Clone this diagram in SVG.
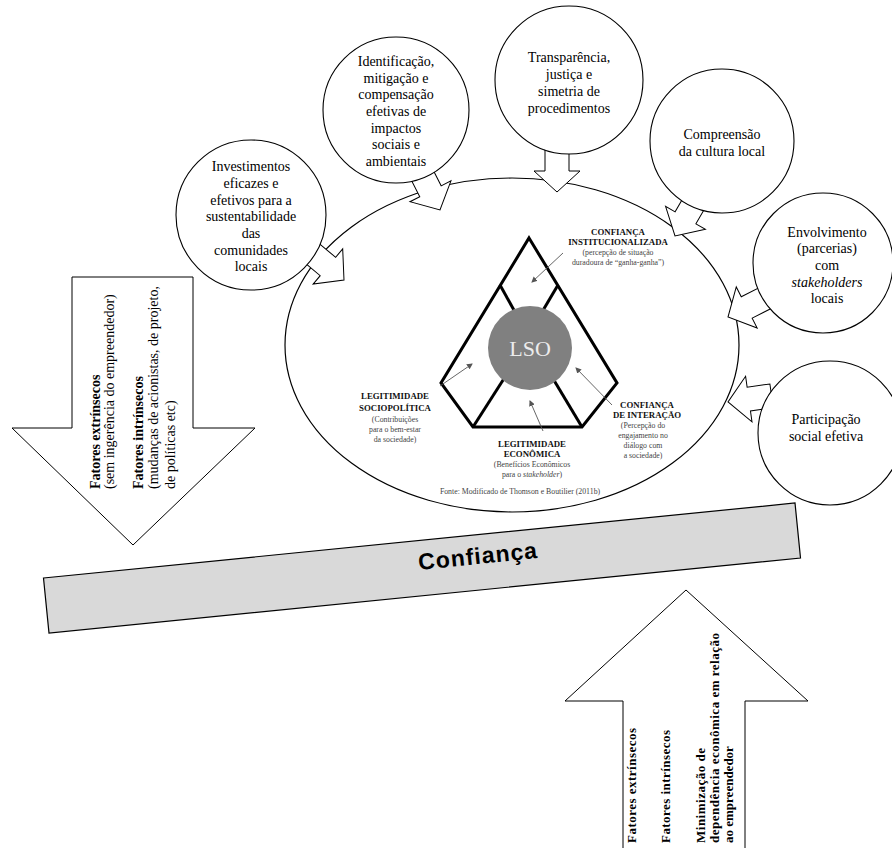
<svg xmlns="http://www.w3.org/2000/svg" xmlns:xlink="http://www.w3.org/1999/xlink" width="892" height="848" viewBox="0 0 892 848">
<style>
.node{fill:#fff;stroke:#000;stroke-width:1.1}
.ct{font-family:"Liberation Serif","Times New Roman",serif;font-size:14px;fill:#000;text-anchor:middle}
.blk{fill:#fff;stroke:#000;stroke-width:1}
.pyr{fill:none;stroke:#000;stroke-width:3;stroke-linejoin:miter}
.lb{font-family:"Liberation Serif","Times New Roman",serif;font-size:8.8px;font-weight:bold;fill:#111;text-anchor:middle}
.sm{font-family:"Liberation Serif","Times New Roman",serif;font-size:7.8px;fill:#444;text-anchor:middle}
.ptr{stroke:#555;stroke-width:0.9;fill:none;marker-end:url(#ah)}
.vt{font-family:"Liberation Serif","Times New Roman",serif;font-size:14px;fill:#000}
.vb{font-family:"Liberation Serif","Times New Roman",serif;font-size:13px;font-weight:bold;fill:#000}
</style>
<defs>
<path id="barrow" d="M-44,-12 L-21,-12 L-21,-23 L0,0 L-21,23 L-21,12 L-44,12 Z"/>
<marker id="ah" markerWidth="6" markerHeight="6" refX="5" refY="3" orient="auto" markerUnits="userSpaceOnUse"><path d="M0,0 L6,3 L0,6 Z" fill="#555"/></marker>
</defs>
<rect width="892" height="848" fill="#fff"/>

<g id="lso-ellipse">
<ellipse cx="512" cy="345" rx="227" ry="167" fill="#fff" stroke="#000" stroke-width="1.2"/>
</g>

<g id="connectors">
<use xlink:href="#barrow" class="blk" transform="translate(344,280) rotate(40)"/>
<use xlink:href="#barrow" class="blk" transform="translate(440,210) rotate(63)"/>
<use xlink:href="#barrow" class="blk" transform="translate(557,192) rotate(90)"/>
<use xlink:href="#barrow" class="blk" transform="translate(675,236) rotate(120)"/>
<use xlink:href="#barrow" class="blk" transform="translate(728,317) rotate(153)"/>
<use xlink:href="#barrow" class="blk" transform="translate(728,402) rotate(172)"/>
</g>

<g id="n1">
<circle class="node" cx="251" cy="215" r="75"/>
<text class="ct" x="251" y="171">Investimentos</text>
<text class="ct" x="251" y="188">eficazes e</text>
<text class="ct" x="251" y="205">efetivos para a</text>
<text class="ct" x="251" y="221">sustentabilidade</text>
<text class="ct" x="251" y="238">das</text>
<text class="ct" x="251" y="255">comunidades</text>
<text class="ct" x="251" y="271">locais</text>
</g>
<g id="n2">
<circle class="node" cx="396" cy="110" r="73"/>
<text class="ct" x="396" y="66">Identificação,</text>
<text class="ct" x="396" y="83">mitigação e</text>
<text class="ct" x="396" y="99">compensação</text>
<text class="ct" x="396" y="116">efetivas de</text>
<text class="ct" x="396" y="133">impactos</text>
<text class="ct" x="396" y="149">sociais e</text>
<text class="ct" x="396" y="166">ambientais</text>
</g>
<g id="n3">
<circle class="node" cx="569" cy="80" r="74"/>
<text class="ct" x="569" y="62">Transparência,</text>
<text class="ct" x="569" y="79">justiça e</text>
<text class="ct" x="569" y="96">simetria de</text>
<text class="ct" x="569" y="113">procedimentos</text>
</g>
<g id="n4">
<circle class="node" cx="722" cy="141" r="72"/>
<text class="ct" x="722" y="139">Compreensão</text>
<text class="ct" x="722" y="156">da cultura local</text>
</g>
<g id="n5">
<circle class="node" cx="823" cy="263" r="70"/>
<text class="ct" x="827" y="237">Envolvimento</text>
<text class="ct" x="827" y="253">(parcerias)</text>
<text class="ct" x="827" y="270">com</text>
<text class="ct" x="827" y="287" font-style="italic">stakeholders</text>
<text class="ct" x="827" y="303">locais</text>
</g>
<g id="n6">
<circle class="node" cx="830" cy="433" r="72"/>
<text class="ct" x="826" y="424">Participação</text>
<text class="ct" x="826" y="441">social efetiva</text>
</g>

<g id="pyramid">
<polygon class="pyr" points="529,238 617,383 582,427 473,427 441,383"/>
<line class="pyr" x1="500" y1="285" x2="515" y2="312"/>
<line class="pyr" x1="558" y1="285" x2="542" y2="312"/>
<line class="pyr" x1="505" y1="377" x2="473" y2="427"/>
<line class="pyr" x1="552" y1="377" x2="582" y2="427"/>
<circle cx="530" cy="348" r="42" fill="#808080"/>
<text x="530" y="356" font-family="Liberation Serif, Times New Roman, serif" font-size="22" fill="#ececec" text-anchor="middle">LSO</text>
</g>

<g id="pointers">
<line class="ptr" x1="563" y1="253" x2="532" y2="282"/>
<line class="ptr" x1="440" y1="386" x2="472" y2="364"/>
<line class="ptr" x1="543" y1="431" x2="530" y2="401"/>
<line class="ptr" x1="612" y1="405" x2="576" y2="368"/>
</g>

<g id="labels">
<text class="lb" x="618" y="235">CONFIANÇA</text>
<text class="lb" x="618" y="245">INSTITUCIONALIZADA</text>
<text class="sm" x="618" y="255">(percepção de situação</text>
<text class="sm" x="618" y="265">duradoura de “ganha-ganha”)</text>

<text class="lb" x="395" y="399">LEGITIMIDADE</text>
<text class="lb" x="395" y="411">SOCIOPOLÍTICA</text>
<text class="sm" x="395" y="422">(Contribuições</text>
<text class="sm" x="395" y="432">para o bem-estar</text>
<text class="sm" x="395" y="442">da sociedade)</text>

<text class="lb" x="647" y="408">CONFIANÇA</text>
<text class="lb" x="647" y="418">DE INTERAÇÃO</text>
<text class="sm" x="643" y="428">(Percepção do</text>
<text class="sm" x="643" y="438">engajamento no</text>
<text class="sm" x="643" y="448">diálogo com</text>
<text class="sm" x="643" y="458">a sociedade)</text>

<text class="lb" x="532" y="447">LEGITIMIDADE</text>
<text class="lb" x="532" y="457">ECONÔMICA</text>
<text class="sm" x="532" y="467">(Benefícios Econômicos</text>
<text class="sm" x="532" y="477">para o <tspan font-style="italic">stakeholder</tspan>)</text>
<text class="sm" x="520" y="494" fill="#222">Fonte: Modificado de Thomson e Boutilier (2011b)</text>
</g>

<g id="left-arrow">
<polygon class="blk" points="72,277 193,277 193,428 255,428 133,545 12,428 72,428"/>
<g transform="translate(0,489) rotate(-90)">
<text class="vt" x="0" y="100" font-weight="bold">Fatores extrínsecos</text>
<text class="vt" x="0" y="114">(sem ingerência do empreendedor)</text>
<text class="vt" x="0" y="143" font-weight="bold">Fatores intrínsecos</text>
<text class="vt" x="0" y="158">(mudanças de acionistas, de projeto,</text>
<text class="vt" x="0" y="175">de políticas etc)</text>
</g>
</g>

<g id="confianca-bar">
<polygon points="43.5,578 795,503 800.5,558 49,633" fill="#d9d9d9" stroke="#000" stroke-width="1.2"/>
<text x="478" y="564" transform="rotate(-5.7 478 556)" font-family="Liberation Sans, Arial, sans-serif" font-size="23" font-weight="bold" letter-spacing="1" text-anchor="middle">Confiança</text>
</g>

<g id="bottom-arrow">
<polygon class="blk" points="686,590 808,701 745,701 745,852 623,852 623,701 565,701"/>
<g transform="translate(0,843) rotate(-90)">
<text class="vb" x="0" y="636" textLength="115" lengthAdjust="spacing">Fatores extrínsecos</text>
<text class="vb" x="0" y="670" textLength="113" lengthAdjust="spacing">Fatores intrínsecos</text>
<text class="vb" x="0" y="705" textLength="95" lengthAdjust="spacing">Minimização de</text>
<text class="vb" x="0" y="719" textLength="210" lengthAdjust="spacing">dependência econômica em relação</text>
<text class="vb" x="0" y="733">ao empreendedor</text>
</g>
</g>
</svg>
